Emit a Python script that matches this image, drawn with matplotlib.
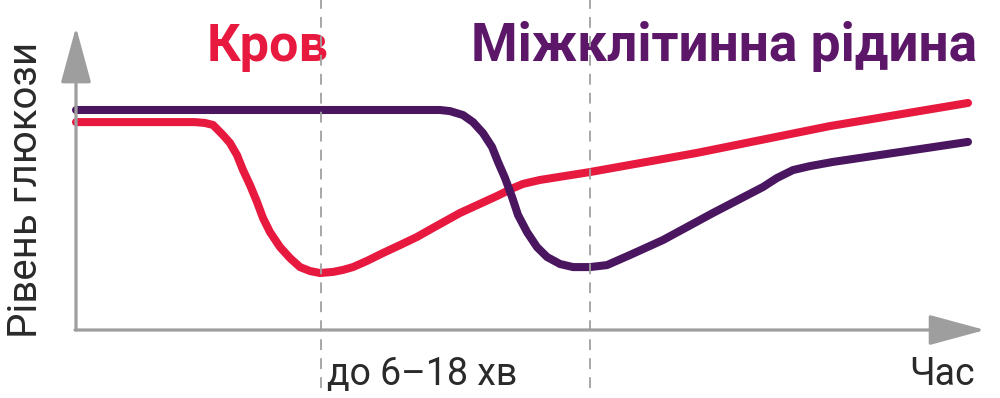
import matplotlib
matplotlib.use("Agg")
import matplotlib.pyplot as plt

plt.rcParams['font.family'] = ['Roboto', 'DejaVu Sans']

# ---- data (time in arbitrary units, glucose level in arbitrary units) ----
blood_t = [0.0, 11.9, 12.9, 13.7, 14.7, 15.4, 16.1, 16.7, 17.4, 18.1, 18.7, 19.4,
           20.4, 21.4, 22.4, 23.4, 24.4, 25.7, 26.7, 27.7, 29.1, 30.7, 32.4,
           34.1, 35.7, 38.4, 42.1, 43.7, 44.7, 46.4, 51.4, 62.1, 75.4, 89.2]
blood_g = [94.5, 94.5, 94.1, 93.2, 88.6, 85.0, 79.5, 72.7, 65.9, 58.2, 50.9, 44.5,
           37.7, 32.7, 28.6, 26.8, 25.9, 26.4, 27.3, 28.6, 31.4, 35.0, 38.6,
           42.3, 46.4, 53.2, 60.9, 64.5, 66.4, 68.2, 71.8, 80.5, 92.7, 103.2]

isf_t = [0.0, 36.4, 37.4, 38.7, 39.7, 40.7, 41.6, 42.2, 42.9, 43.6, 44.2, 45.1,
         46.1, 47.1, 48.4, 49.7, 51.4, 53.1, 55.4, 58.7, 63.7, 68.7, 70.1,
         71.7, 73.4, 75.7, 82.4, 89.2]
isf_g = [100.0, 100.0, 99.5, 97.7, 94.5, 89.5, 83.2, 76.4, 69.1, 60.5, 52.3, 44.5,
         37.7, 33.2, 30.0, 28.6, 28.6, 29.5, 34.1, 40.9, 53.2, 65.0, 69.1,
         72.7, 74.5, 76.4, 80.9, 85.5]

lag_marks = [24.5, 51.4]

series_names = ["Кров", "Міжклітинна рідина"]
y_label = "Рівень глюкози"
x_label = "Час"
lag_label = "до 6–18 хв"

# ---- styling ----
RED = "#E8193F"
PURPLE = "#4A1660"
PURPLE_TXT = "#5C1769"
GRAY = "#9E9E9E"
TXT = "#2a2a2a"

fig = plt.figure(figsize=(10, 3.98), dpi=100)
ax = fig.add_axes([0, 0, 1, 1])
ax.set_xlim(-7.6, 92.4)
ax.set_ylim(-30.91, 150)
ax.axis("off")

# curves
ax.plot(blood_t, blood_g, color=RED, lw=5.8, solid_capstyle="round",
        solid_joinstyle="round", zorder=3)
ax.plot(isf_t, isf_g, color=PURPLE, lw=5.8, solid_capstyle="round",
        solid_joinstyle="round", zorder=4)

# dashed lag markers
for m in lag_marks:
    ax.axvline(m, ymin=0.025, ymax=1.0, color="#A0A0A0", lw=1.3,
               dashes=(6, 4.5), zorder=5)

# axes with arrows
arrow_kw = dict(arrowstyle="-|>,head_length=35,head_width=9.5",
                color=GRAY, lw=2.3, shrinkA=0, shrinkB=0, mutation_scale=1)
ax.annotate("", xy=(0, 137.7), xytext=(0, 0),
            arrowprops=arrow_kw, zorder=6, annotation_clip=False)
ax.annotate("", xy=(90.9, 0), xytext=(-0.1, 0),
            arrowprops=arrow_kw, zorder=6, annotation_clip=False)

# titles
ax.text(13.1, 122.3, series_names[0], color=RED, fontsize=37.5,
        fontweight="bold", ha="left", va="baseline")
ax.text(39.5, 122.3, series_names[1], color=PURPLE_TXT, fontsize=38.3,
        fontweight="bold", ha="left", va="baseline")

# axis labels
ax.text(-3.9, -3.6, y_label, rotation=90, rotation_mode="anchor",
        ha="left", va="baseline", fontsize=29, color=TXT)
ax.text(89.9, -25.0, x_label, ha="right", va="baseline", fontsize=27, color=TXT)
ax.text(25.1, -25.0, lag_label, ha="left", va="baseline", fontsize=27, color=TXT)

fig.savefig("out.png", dpi=100)
